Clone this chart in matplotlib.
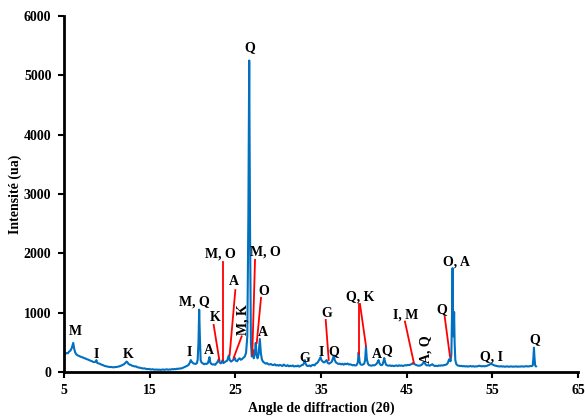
import matplotlib.pyplot as plt

plt.rcParams['font.family'] = ['Liberation Serif', 'DejaVu Serif']
plt.rcParams['font.weight'] = 'bold'
plt.rcParams['font.size'] = 10

# diffractogram, 2theta (deg) and intensity (ua)
angle = [
    5.0, 5.15, 5.3, 5.45, 5.6, 5.75, 5.9, 6.0, 6.08, 6.18, 6.3, 6.45, 6.6, 6.75, 6.9,
    7.05, 7.2, 7.35, 7.5, 7.65, 7.8, 7.95, 8.1, 8.25, 8.4, 8.55, 8.7, 8.78, 8.86,
    9.0, 9.15, 9.3, 9.45, 9.6, 9.75, 9.9, 10.05, 10.2, 10.35, 10.5, 10.65, 10.8,
    10.95, 11.1, 11.25, 11.4, 11.55, 11.7, 11.85, 12.0, 12.15, 12.3, 12.4, 12.5,
    12.65, 12.8, 12.95, 13.1, 13.25, 13.4, 13.55, 13.7, 13.85, 14.0, 14.15, 14.3,
    14.45, 14.6, 14.75, 14.9, 15.05, 15.2, 15.35, 15.5, 15.65, 15.8, 15.95, 16.1,
    16.25, 16.4, 16.55, 16.7, 16.85, 17.0, 17.15, 17.3, 17.45, 17.6, 17.75, 17.9,
    18.05, 18.2, 18.35, 18.5, 18.65, 18.8, 18.95, 19.1, 19.25, 19.4, 19.55, 19.7,
    19.8, 19.9, 20.05, 20.2, 20.35, 20.5, 20.6, 20.7, 20.78, 20.86, 20.95, 21.05,
    21.2, 21.35, 21.5, 21.65, 21.8, 21.9, 21.98, 22.08, 22.2, 22.35, 22.5, 22.65,
    22.8, 22.95, 23.08, 23.18, 23.3, 23.42, 23.52, 23.62, 23.75, 23.9, 24.05, 24.15,
    24.25, 24.35, 24.5, 24.65, 24.8, 24.92, 25.05, 25.2, 25.35, 25.5, 25.65, 25.8,
    25.95, 26.1, 26.25, 26.4, 26.52, 26.62, 26.72, 26.82, 26.92, 27.0, 27.06, 27.15,
    27.28, 27.38, 27.48, 27.6, 27.72, 27.86, 27.98, 28.1, 28.25, 28.4, 28.55, 28.7,
    28.85, 29.0, 29.15, 29.3, 29.45, 29.6, 29.75, 29.9, 30.05, 30.2, 30.35, 30.5,
    30.65, 30.8, 30.95, 31.1, 31.25, 31.4, 31.55, 31.7, 31.85, 32.0, 32.15, 32.3,
    32.45, 32.6, 32.75, 32.9, 33.05, 33.12, 33.2, 33.35, 33.5, 33.65, 33.8, 33.95,
    34.1, 34.25, 34.4, 34.55, 34.7, 34.85, 34.95, 35.05, 35.2, 35.35, 35.5, 35.65,
    35.8, 35.95, 36.1, 36.25, 36.4, 36.5, 36.6, 36.75, 36.9, 37.05, 37.2, 37.35,
    37.5, 37.65, 37.8, 37.95, 38.1, 38.25, 38.4, 38.55, 38.7, 38.85, 39.0, 39.15,
    39.3, 39.4, 39.5, 39.6, 39.75, 39.9, 40.05, 40.15, 40.25, 40.35, 40.48, 40.6,
    40.75, 40.9, 41.05, 41.2, 41.35, 41.5, 41.62, 41.72, 41.82, 41.95, 42.1, 42.2,
    42.3, 42.38, 42.48, 42.6, 42.75, 42.9, 43.05, 43.2, 43.35, 43.5, 43.65, 43.8,
    43.95, 44.1, 44.25, 44.4, 44.55, 44.7, 44.85, 45.0, 45.15, 45.3, 45.45, 45.6,
    45.72, 45.85, 46.0, 46.15, 46.3, 46.45, 46.6, 46.75, 46.88, 47.0, 47.1, 47.25,
    47.4, 47.55, 47.7, 47.85, 48.0, 48.15, 48.3, 48.45, 48.6, 48.75, 48.9, 49.05,
    49.2, 49.35, 49.5, 49.65, 49.8, 49.92, 50.02, 50.12, 50.22, 50.3, 50.36, 50.42,
    50.48, 50.54, 50.6, 50.68, 50.8, 50.95, 51.1, 51.25, 51.4, 51.55, 51.7, 51.85,
    52.0, 52.15, 52.3, 52.45, 52.6, 52.75, 52.9, 53.05, 53.2, 53.35, 53.5, 53.65,
    53.8, 53.95, 54.1, 54.25, 54.4, 54.55, 54.7, 54.82, 54.95, 55.1, 55.25, 55.4,
    55.55, 55.7, 55.85, 56.0, 56.15, 56.3, 56.45, 56.6, 56.75, 56.9, 57.05, 57.2,
    57.35, 57.5, 57.65, 57.8, 57.95, 58.1, 58.25, 58.4, 58.55, 58.7, 58.85, 59.0,
    59.15, 59.3, 59.45, 59.6, 59.72, 59.8, 59.86, 59.92, 60.0, 60.1,
]
intensite = [
    300, 305, 320, 315, 345, 360, 400, 450, 490, 400, 330, 295, 280, 270, 262,
    250, 245, 232, 228, 215, 210, 198, 190, 182, 170, 165, 175, 200, 155,
    145, 140, 128, 120, 112, 100, 98, 90, 88, 82, 85, 80, 78,
    82, 84, 88, 92, 100, 108, 118, 130, 150, 175, 165, 140,
    125, 118, 105, 100, 92, 95, 80, 75, 72, 65, 62, 58,
    60, 50, 48, 52, 45, 42, 46, 40, 38, 42, 36, 40,
    35, 38, 42, 36, 40, 45, 38, 42, 40, 48, 44, 50,
    46, 55, 52, 60, 58, 65, 75, 85, 95, 105, 120, 160,
    200, 175, 150, 140, 135, 145, 200, 500, 1050, 600, 200, 160,
    145, 130, 140, 135, 150, 200, 250, 160, 135, 125, 130, 120,
    150, 175, 220, 160, 145, 160, 200, 150, 165, 180, 190, 240,
    280, 200, 175, 190, 210, 240, 190, 180, 210, 230, 205, 220,
    240, 260, 320, 600, 2600, 5250, 2400, 500, 260, 300, 370, 230,
    300, 490, 300, 230, 300, 556, 320, 210, 170, 155, 140, 150,
    130, 125, 135, 120, 115, 130, 110, 118, 105, 120, 110, 100,
    125, 108, 100, 115, 95, 105, 98, 110, 92, 100, 95, 108,
    90, 100, 115, 120, 160, 200, 140, 105, 100, 110, 95, 115,
    120, 110, 140, 150, 180, 220, 250, 200, 175, 160, 175, 200,
    150, 140, 155, 170, 230, 280, 200, 160, 145, 135, 140, 128,
    138, 122, 140, 130, 142, 125, 130, 120, 112, 118, 108, 115,
    160, 330, 180, 130, 120, 125, 140, 200, 430, 220, 140, 115,
    110, 105, 115, 110, 120, 140, 170, 200, 150, 120, 115, 130,
    180, 235, 170, 120, 110, 105, 112, 100, 108, 98, 105, 110,
    100, 112, 105, 110, 100, 108, 115, 110, 120, 115, 125, 135,
    150, 140, 125, 115, 108, 105, 110, 120, 140, 170, 150, 120,
    110, 115, 105, 120, 130, 110, 100, 105, 98, 110, 105, 112,
    108, 115, 120, 125, 150, 200, 220, 180, 300, 1000, 1750, 900,
    600, 1010, 500, 200, 130, 110, 105, 100, 102, 95, 100, 92,
    98, 90, 95, 100, 92, 98, 90, 95, 92, 100, 105, 98,
    95, 100, 95, 100, 105, 115, 125, 140, 130, 120, 110, 105,
    100, 95, 92, 98, 90, 95, 88, 92, 95, 88, 90, 95,
    88, 92, 90, 95, 88, 92, 90, 95, 92, 90, 95, 98,
    92, 95, 100, 98, 110, 250, 410, 250, 110, 95,
]

# phase labels: text, 2theta, intensity, rotation
lab_txt = ['M', 'I', 'K', 'I', 'A', 'M, Q', 'Q', 'A', 'G', 'I', 'Q', 'A', 'Q',
           'O, A', 'Q, I', 'Q', 'A, Q',
           'K', 'M, O', 'A', 'M, K', 'M, O', 'O', 'G', 'Q, K', 'I, M', 'Q']
lab_x = [6.28, 8.74, 12.47, 19.6, 21.9, 20.2, 26.71, 28.27, 33.1, 35.07, 36.44, 41.5, 42.67,
         50.76, 54.92, 59.9, 47.26,
         22.63, 23.29, 24.88, 25.86, 28.54, 28.27, 35.62, 39.55, 44.92, 49.1]
lab_y = [675, 300, 300, 320, 370, 1180, 5460, 663, 235, 325, 350, 300, 360,
         1860, 258, 540, 390,
         910, 1990, 1520, 880, 2030, 1355, 990, 1260, 960, 1057]
lab_rot = [0] * 16 + [90] + [0, 0, 0, 90, 0, 0, 0, 0, 0, 0]

# red leader lines
line_x0 = [22.47, 23.52, 25.0, 25.74, 27.3, 28.0, 35.55, 39.4, 39.55, 44.8, 49.44]
line_y0 = [793, 1860, 1380, 600, 1890, 1250, 877, 1146, 1146, 850, 933]
line_x1 = [23.13, 23.52, 24.34, 24.8, 26.98, 27.5, 35.9, 39.4, 40.25, 45.85, 50.06]
line_y1 = [202, 200, 290, 236, 290, 490, 202, 300, 440, 147, 258]

fig = plt.figure(figsize=(5.85, 4.17), dpi=100)
ax = fig.add_axes([0.1094, 0.108, 0.8786, 0.8536])

ax.plot(angle, intensite, color='#0070C0', lw=1.5)

for x0, y0, x1, y1 in zip(line_x0, line_y0, line_x1, line_y1):
    ax.plot([x0, x1], [y0, y1], color='red', lw=1.3)

for t, x, y, r in zip(lab_txt, lab_x, lab_y, lab_rot):
    ax.text(x, y, t, ha='center', va='center', rotation=r, fontsize=10, fontweight='bold')

ax.set_xlim(5, 65)
ax.set_ylim(0, 6000)
ax.set_xticks(range(5, 66, 10))
ax.set_yticks(range(0, 6001, 1000))
ax.spines['top'].set_visible(False)
ax.spines['right'].set_visible(False)
ax.spines['left'].set_linewidth(2)
ax.spines['bottom'].set_linewidth(2)
ax.tick_params(direction='out', length=4, width=1.5, labelsize=10, pad=5)

ax.set_xlabel('Angle de diffraction (2θ)', fontsize=10, fontweight='bold', labelpad=3)
ax.set_ylabel('Intensité (ua)', fontsize=10, fontweight='bold', labelpad=1)

fig.savefig('out.png', dpi=100)
